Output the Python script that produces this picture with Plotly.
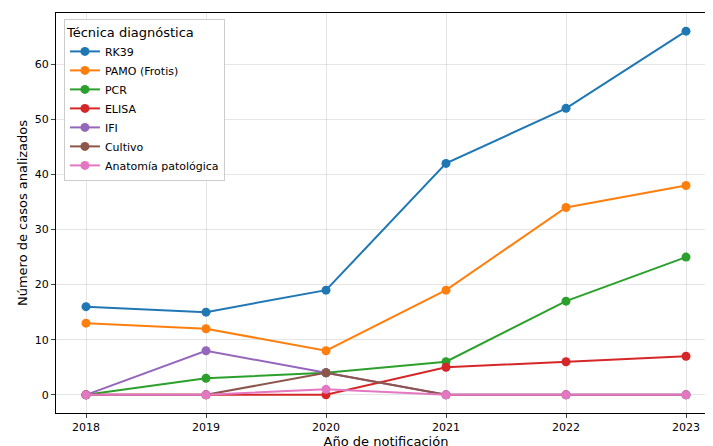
import plotly.graph_objects as go

years = [2018, 2019, 2020, 2021, 2022, 2023]
names = ["RK39", "PAMO (Frotis)", "PCR", "ELISA", "IFI", "Cultivo", "Anatomía patológica"]
rk39 = [16, 15, 19, 42, 52, 66]
pamo = [13, 12, 8, 19, 34, 38]
pcr = [0, 3, 4, 6, 17, 25]
elisa = [0, 0, 0, 5, 6, 7]
ifi = [0, 8, 4, 0, 0, 0]
cultivo = [0, 0, 4, 0, 0, 0]
anatomia = [0, 0, 1, 0, 0, 0]
series = [rk39, pamo, pcr, elisa, ifi, cultivo, anatomia]
colors = ["#1f77b4", "#ff7f0e", "#2ca02c", "#d62728", "#9467bd", "#8c564b", "#e377c2"]

fig = go.Figure()
for n, s, c in zip(names, series, colors):
    fig.add_trace(go.Scatter(x=years, y=s, name=n, mode="lines+markers",
                             line=dict(color=c, width=2), marker=dict(size=9, color=c)))

ax = dict(showline=True, linecolor="black", mirror=True, ticks="outside", ticklen=4,
          gridcolor="rgba(0,0,0,0.1)", zeroline=False, tickfont=dict(size=11, color="black"),
          automargin=False)
fig.update_layout(
    width=713, height=446, plot_bgcolor="white", paper_bgcolor="white",
    font=dict(family="DejaVu Sans", size=11, color="black"),
    margin=dict(l=48, r=5, t=5, b=41),
    xaxis=dict(ax, range=[2017.75, 2023.25], tickvals=years,
               title=dict(text="Año de notificación", standoff=2)),
    yaxis=dict(ax, range=[-3.3, 69.3], tickvals=[0, 10, 20, 30, 40, 50, 60],
               title=dict(text="Número de casos analizados", standoff=4)),
    legend=dict(x=0.012, y=0.985, xanchor="left", yanchor="top", bgcolor="white",
                bordercolor="#cccccc", borderwidth=1, font=dict(size=11),
                title=dict(text="Técnica diagnóstica", side="top")),
)
fig.write_html("out.html")
